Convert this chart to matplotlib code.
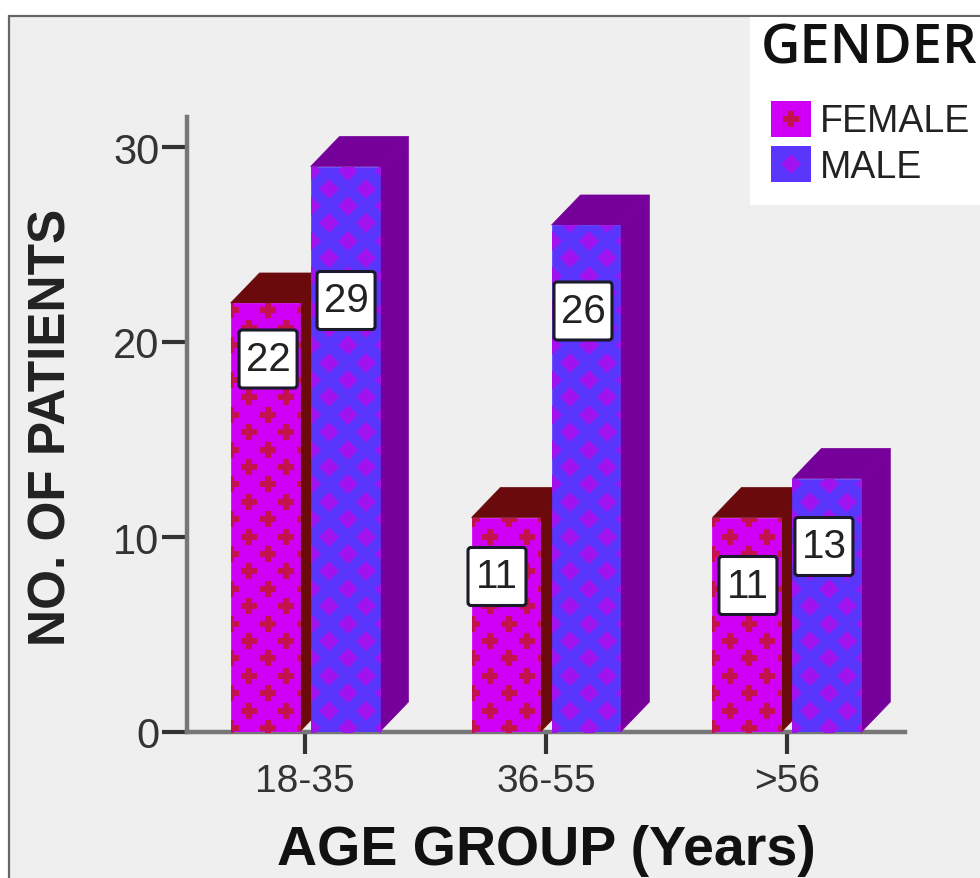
import numpy as np
import matplotlib
matplotlib.use("Agg")
import matplotlib.pyplot as plt
from matplotlib.patches import Rectangle, Polygon, FancyBboxPatch
from matplotlib.transforms import IdentityTransform

categories = ['18-35', '36-55', '>56']
female = [22, 11, 11]
male = [29, 26, 13]
series_names = ['FEMALE', 'MALE']
yticks = [0, 10, 20, 30]

# label box centres, pixels away from the middle of the bar top
female_label_shift = [(3, -56), (-9, -59), (1, -68)]
male_label_shift = [(1, -134), (-3, -86), (-3, -68)]

bar_w = 0.286
gap = 0.046
depth_x = 0.12
depth_y = 1.54

female_face, female_dark, female_mark = '#cf00f5', '#6a0a0c', '#c4124e'
male_face, male_dark, male_mark = '#5a35fb', '#75009a', '#a012ee'

W, H = 980, 879
fig = plt.figure(figsize=(W / 100, H / 100), dpi=100, facecolor='white')
plt.rcParams['font.family'] = ['Liberation Sans', 'DejaVu Sans']

# frame and background of the whole chart, in pixels
bg = fig.add_axes([0, 0, 1, 1])
bg.set_xlim(0, W)
bg.set_ylim(H, 0)
bg.axis('off')
bg.add_patch(Rectangle((9, 17), W, H, fc='#efefef', ec='#666666', lw=1.6))

ax = fig.add_axes([187 / W, 1 - 733 / H, (905 - 187) / W, (733 - 118) / H])
ax.patch.set_alpha(0)
ax.set_xlim(-0.49, 2.49)
ax.set_ylim(0, 615 / 19.5)
for s in ['top', 'right']:
    ax.spines[s].set_visible(False)
for s in ['left', 'bottom']:
    ax.spines[s].set_color('#777777')
    ax.spines[s].set_linewidth(3.2)
ax.set_xticks(range(len(categories)))
ax.set_xticklabels(categories)
ax.set_yticks(yticks)
ax.tick_params(axis='x', length=16, width=3, color='#333333', labelsize=28,
               labelcolor='#333333', pad=6)
ax.tick_params(axis='y', length=18, width=3, color='#333333', labelsize=30,
               labelcolor='#333333', pad=2)


def draw_bar(x, v, face, dark, mark, marker, ms):
    ax.add_patch(Polygon([(x + bar_w, 0), (x + bar_w + depth_x, depth_y),
                          (x + bar_w + depth_x, v + depth_y), (x + bar_w, v)],
                         fc=dark, ec=dark, lw=0.5, zorder=3))
    ax.add_patch(Polygon([(x, v), (x + depth_x, v + depth_y),
                          (x + bar_w + depth_x, v + depth_y), (x + bar_w, v)],
                         fc=dark, ec=dark, lw=0.5, zorder=3))
    rect = Rectangle((x, 0), bar_w, v, fc=face, ec=face, lw=0.5, zorder=3)
    ax.add_patch(rect)
    # repeating fill pattern, laid out in pixels and clipped to the bar
    x0, y0 = ax.transData.transform((x, 0))
    x1, y1 = ax.transData.transform((x + bar_w, v))
    px, py = [], []
    for row, yy in enumerate(np.arange(y0 + 4, y1 + 17, 17.4)):
        for xx in np.arange(x0 + (18 if row % 2 else 0), x1 + 18, 37):
            px.append(xx)
            py.append(yy)
    pts, = ax.plot(px, py, ls='none', marker=marker, ms=ms, color=mark, mew=0,
                   transform=IdentityTransform(), zorder=4)
    pts.set_clip_path(rect)


def value_box(x, v, shift):
    cx, cy = ax.transData.transform((x + bar_w / 2, v))
    cx, cy = cx + shift[0], cy + shift[1]
    ax.add_patch(FancyBboxPatch((cx - 26, cy - 26), 52, 52,
                                boxstyle='round,pad=3,rounding_size=3',
                                fc='white', ec='#1a1a2a', lw=2.2,
                                transform=IdentityTransform(), zorder=6,
                                clip_on=False))
    ax.text(cx, cy, str(v), ha='center', va='center', fontsize=29,
            color='#222222', transform=IdentityTransform(), zorder=7)


for i in range(len(categories)):
    draw_bar(i - gap / 2 - bar_w, female[i], female_face, female_dark, female_mark, 'P', 12)
    draw_bar(i + gap / 2, male[i], male_face, male_dark, male_mark, 'D', 10)
for i in range(len(categories)):
    value_box(i - gap / 2 - bar_w, female[i], female_label_shift[i])
    value_box(i + gap / 2, male[i], male_label_shift[i])

# axis titles
bg.text(52, 427, 'NO. OF PATIENTS', rotation=90, ha='center', va='center',
        fontsize=37, fontweight='bold', color='#222222')
bg.text(546, 851, 'AGE GROUP (Years)', ha='center', va='center',
        fontsize=40, fontweight='bold', color='#111111')

# legend box
lg = fig.add_axes([0, 0, 1, 1], zorder=5)
lg.set_xlim(0, W)
lg.set_ylim(H, 0)
lg.axis('off')
lg.add_patch(Rectangle((750, 18), 240, 188, fc='white', ec='none'))
lg.text(761, 50, 'GENDER', ha='left', va='center', fontsize=39, color='#111111',
        family=['Open Sans', 'DejaVu Sans'], fontweight='semibold', clip_on=True)
lg.add_patch(Rectangle((771, 102), 40, 36, fc=female_face, ec='none'))
lg.add_patch(Rectangle((771, 147), 40, 36, fc=male_face, ec='none'))
lg.plot([791], [120], marker='P', ms=12, color=female_mark, mew=0)
lg.plot([791], [165], marker='D', ms=10, color=male_mark, mew=0)
lg.text(820, 122, series_names[0], ha='left', va='center', fontsize=27, color='#222222')
lg.text(820, 168, series_names[1], ha='left', va='center', fontsize=27, color='#222222')

fig.savefig('out.png', dpi=100, facecolor='white')
